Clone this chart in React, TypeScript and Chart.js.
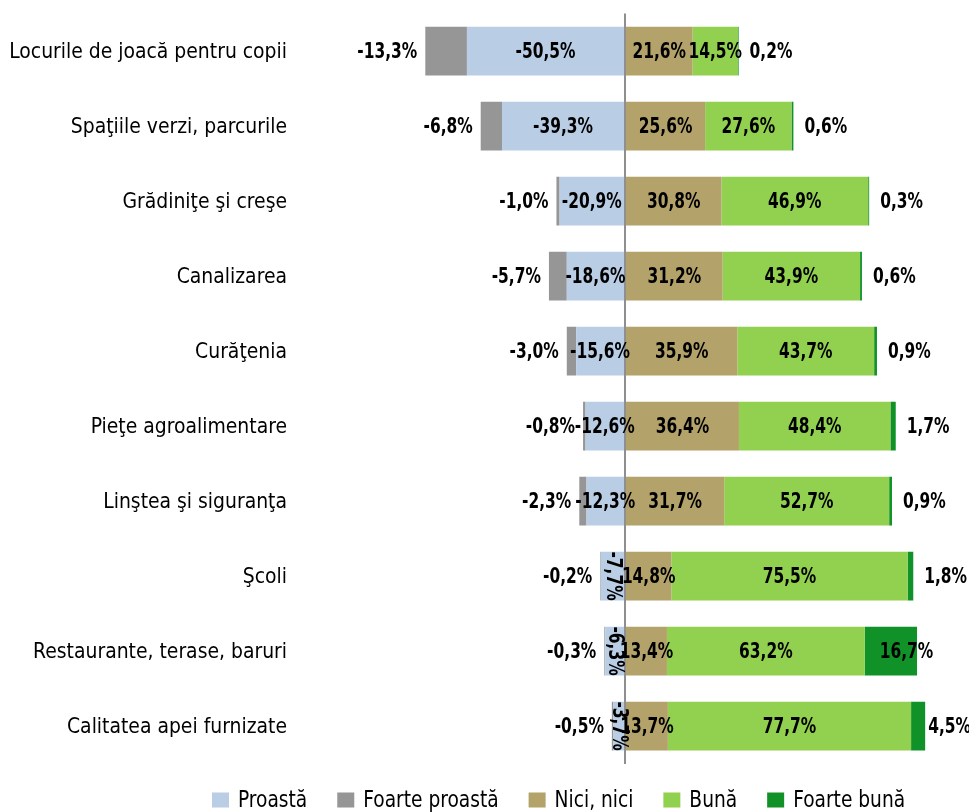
import React, { useEffect, useRef } from 'react';
import { Chart, registerables } from 'chart.js';

Chart.register(...registerables);

const categories = [
  'Locurile de joacă pentru copii',
  'Spaţiile verzi, parcurile',
  'Grădiniţe şi creşe',
  'Canalizarea',
  'Curăţenia',
  'Pieţe agroalimentare',
  'Linştea şi siguranţa',
  'Şcoli',
  'Restaurante, terase, baruri',
  'Calitatea apei furnizate',
];

const proasta = [-50.5, -39.3, -20.9, -18.6, -15.6, -12.6, -12.3, -7.7, -6.3, -3.7];
const foarteProasta = [-13.3, -6.8, -1.0, -5.7, -3.0, -0.8, -2.3, -0.2, -0.3, -0.5];
const niciNici = [21.6, 25.6, 30.8, 31.2, 35.9, 36.4, 31.7, 14.8, 13.4, 13.7];
const buna = [14.5, 27.6, 46.9, 43.9, 43.7, 48.4, 52.7, 75.5, 63.2, 77.7];
const foarteBuna = [0.2, 0.6, 0.3, 0.6, 0.9, 1.7, 0.9, 1.8, 16.7, 4.5];

const seriesNames = ['Proastă', 'Foarte proastă', 'Nici, nici', 'Bună', 'Foarte bună'];
const seriesColors = ['#B9CDE5', '#969696', '#B3A26A', '#92D050', '#109229'];
const xMin = -100;
const xMax = 100;

const FONT = "'DejaVu Sans Condensed', 'Liberation Sans Narrow', sans-serif";
const LABEL_SX = 0.78;
const CAT_SX = 0.95;
const LEG_SX = 0.9;

const fmt = (v: number) => v.toFixed(1).replace('.', ',') + '%';

function drawText(ctx: any, text: string, x: number, y: number, align: string, sx: number, rot = 0) {
  ctx.save();
  ctx.translate(x, y);
  if (rot) ctx.rotate(rot);
  ctx.scale(sx, 1);
  ctx.textAlign = align;
  ctx.fillText(text, 0, 0);
  ctx.restore();
}

const labelPlugin = {
  id: 'barLabels',
  afterDatasetsDraw(chart: any) {
    const ctx = chart.ctx;
    ctx.save();
    ctx.font = `bold 22px ${FONT}`;
    ctx.fillStyle = '#000';
    ctx.textBaseline = 'middle';
    chart.data.datasets.forEach((ds: any, di: number) => {
      const meta = chart.getDatasetMeta(di);
      if (meta.hidden) return;
      meta.data.forEach((bar: any, i: number) => {
        const v = ds.data[i] as number;
        const { x, y, base } = bar.getProps(['x', 'y', 'base'], true);
        const left = Math.min(x, base);
        const right = Math.max(x, base);
        const w = right - left;
        const text = fmt(v);
        const tw = ctx.measureText(text).width * LABEL_SX;
        const mode = ds.labelMode;
        const cx = (left + right) / 2;
        const yy = y + 1;
        if (mode === 'centerRotate') {
          if (Math.abs(v) < 10) drawText(ctx, text, cx, y, 'center', LABEL_SX, Math.PI / 2);
          else drawText(ctx, text, cx, yy, 'center', LABEL_SX);
        } else if (mode === 'outsideLeft') {
          drawText(ctx, text, left - 8, yy, 'right', LABEL_SX);
        } else if (mode === 'outsideRight') {
          if (w >= 30) drawText(ctx, text, left + 15, yy, 'left', LABEL_SX);
          else {
            const lx = Math.max(right + 3, Math.min(right + 11, chart.width - 2 - tw));
            drawText(ctx, text, lx, yy, 'left', LABEL_SX);
          }
        } else {
          drawText(ctx, text, cx, yy, 'center', LABEL_SX);
        }
      });
    });
    ctx.restore();
  },
};

const categoryPlugin = {
  id: 'categoryLabels',
  afterDraw(chart: any) {
    const ctx = chart.ctx;
    const yScale = chart.scales.y;
    ctx.save();
    ctx.font = `22px ${FONT}`;
    ctx.fillStyle = '#000';
    ctx.textBaseline = 'middle';
    categories.forEach((c, i) => {
      const y = yScale.getPixelForValue(i);
      drawText(ctx, c, chart.chartArea.left - 25, y + 1, 'right', CAT_SX);
    });
    ctx.restore();
  },
};

const legendPlugin = {
  id: 'customLegend',
  afterDraw(chart: any) {
    const ctx = chart.ctx;
    ctx.save();
    ctx.font = `23px ${FONT}`;
    ctx.textBaseline = 'middle';
    let x = 212;
    const yc = 800;
    chart.data.datasets.forEach((ds: any) => {
      ctx.fillStyle = ds.backgroundColor;
      ctx.fillRect(x, yc - 7.5, 17, 15);
      ctx.fillStyle = '#000';
      const tx = x + 17 + 9;
      drawText(ctx, ds.label, tx, yc + 1, 'left', LEG_SX);
      const tw = ctx.measureText(ds.label).width * LEG_SX;
      x = tx + tw + 30;
    });
    ctx.restore();
  },
};

export default function App() {
  const canvasRef = useRef<HTMLCanvasElement | null>(null);

  useEffect(() => {
    document.body.style.margin = '0';
    const canvas = canvasRef.current;
    if (!canvas) return;
    const chart = new Chart(canvas, {
      type: 'bar',
      data: {
        labels: categories,
        datasets: [
          { label: seriesNames[0], data: proasta, backgroundColor: seriesColors[0], labelMode: 'centerRotate' } as any,
          { label: seriesNames[1], data: foarteProasta, backgroundColor: seriesColors[1], labelMode: 'outsideLeft' } as any,
          { label: seriesNames[2], data: niciNici, backgroundColor: seriesColors[2], labelMode: 'center' } as any,
          { label: seriesNames[3], data: buna, backgroundColor: seriesColors[3], labelMode: 'center' } as any,
          { label: seriesNames[4], data: foarteBuna, backgroundColor: seriesColors[4], labelMode: 'outsideRight' } as any,
        ],
      },
      options: {
        indexAxis: 'y',
        animation: false,
        responsive: true,
        maintainAspectRatio: false,
        datasets: { bar: { barPercentage: 0.65, categoryPercentage: 1 } },
        layout: { padding: { top: 13.5, right: 31, left: 0, bottom: 48.5 } },
        scales: {
          x: {
            stacked: true,
            min: xMin,
            max: xMax,
            ticks: { display: false },
            border: { display: false },
            grid: {
              drawTicks: false,
              lineWidth: 2,
              color: (c: any) => (c.tick && c.tick.value === 0 ? '#8f8f8f' : 'rgba(0,0,0,0)'),
            },
            afterFit: (s: any) => {
              s.height = 0;
            },
          },
          y: {
            stacked: true,
            border: { display: false },
            grid: { display: false, drawTicks: false },
            ticks: { display: false },
            afterFit: (s: any) => {
              s.width = 312;
            },
          },
        },
        plugins: {
          legend: { display: false },
          tooltip: { enabled: false },
        },
      },
      plugins: [labelPlugin, categoryPlugin, legendPlugin],
    });
    return () => chart.destroy();
  }, []);

  return (
    <div style={{ width: 969, height: 812, position: 'relative' }}>
      <canvas ref={canvasRef} />
    </div>
  );
}
